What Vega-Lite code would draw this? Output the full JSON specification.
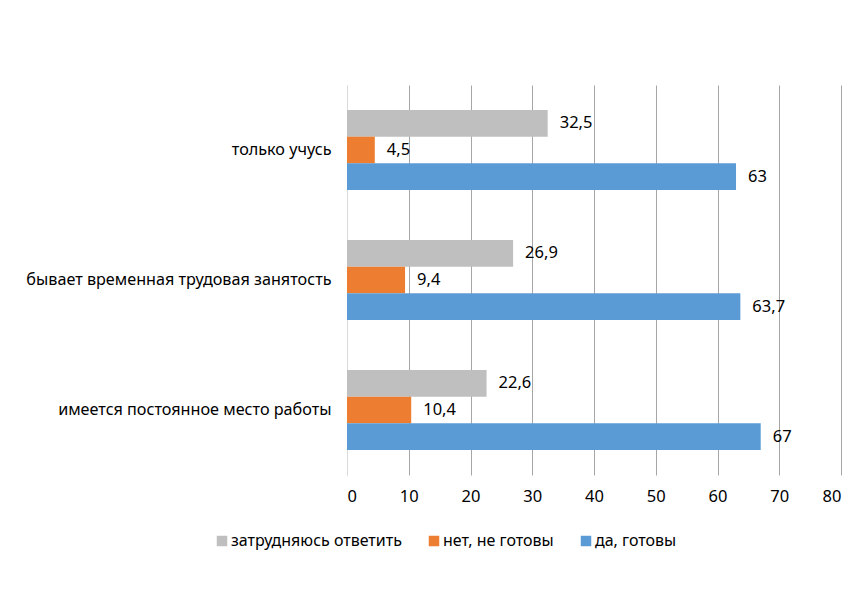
{
  "$schema": "https://vega.github.io/schema/vega-lite/v6.json",
  "width": 494,
  "height": 390,
  "autosize": {"type": "none"},
  "padding": {"left": 347, "top": 85, "right": 22, "bottom": 133},
  "background": "white",
  "config": {
    "view": {"stroke": null},
    "font": "Noto Sans",
    "locale": {
      "number": {"decimal": ",", "thousands": " ", "grouping": [3], "currency": ["", " ₽"]}
    }
  },
  "data": {
    "values": [
      {"group": "только учусь", "answer": "затрудняюсь ответить", "value": 32.5},
      {"group": "только учусь", "answer": "нет, не готовы", "value": 4.5},
      {"group": "только учусь", "answer": "да, готовы", "value": 63},
      {"group": "бывает временная трудовая занятость", "answer": "затрудняюсь ответить", "value": 26.9},
      {"group": "бывает временная трудовая занятость", "answer": "нет, не готовы", "value": 9.4},
      {"group": "бывает временная трудовая занятость", "answer": "да, готовы", "value": 63.7},
      {"group": "имеется постоянное место работы", "answer": "затрудняюсь ответить", "value": 22.6},
      {"group": "имеется постоянное место работы", "answer": "нет, не готовы", "value": 10.4},
      {"group": "имеется постоянное место работы", "answer": "да, готовы", "value": 67}
    ]
  },
  "encoding": {
    "y": {
      "field": "group",
      "type": "nominal",
      "sort": ["только учусь", "бывает временная трудовая занятость", "имеется постоянное место работы"],
      "scale": {"paddingInner": 0.385, "paddingOuter": 0.1925},
      "axis": {
        "title": null,
        "ticks": false,
        "labelPadding": 16,
        "labelFontSize": 16.2,
        "labelLimit": 400,
        "labelColor": "#000000",
        "domainColor": "#d9d9d9",
        "domainWidth": 1
      }
    },
    "x": {
      "field": "value",
      "type": "quantitative",
      "scale": {"domain": [0, 80], "nice": false},
      "axis": {
        "title": null,
        "values": [0, 10, 20, 30, 40, 50, 60, 70, 80],
        "ticks": false,
        "domain": false,
        "labelPadding": 13,
        "labelFontSize": 16.5,
        "labelColor": "#000000",
        "gridColor": {"condition": {"test": "datum.value === 0", "value": "#d9d9d9"}, "value": "#a6a6a6"},
        "gridWidth": 1
      }
    },
    "yOffset": {
      "field": "answer",
      "type": "nominal",
      "sort": ["затрудняюсь ответить", "нет, не готовы", "да, готовы"]
    }
  },
  "layer": [
    {
      "mark": {"type": "bar"},
      "encoding": {
        "color": {
          "field": "answer",
          "type": "nominal",
          "sort": ["затрудняюсь ответить", "нет, не готовы", "да, готовы"],
          "scale": {
            "domain": ["затрудняюсь ответить", "нет, не готовы", "да, готовы"],
            "range": ["#bfbfbf", "#ed7d31", "#5b9bd5"]
          },
          "legend": {
            "title": null,
            "orient": "none",
            "direction": "horizontal",
            "legendX": -133,
            "legendY": 448,
            "symbolType": "square",
            "symbolSize": 110,
            "symbolStrokeWidth": 0,
            "labelFontSize": 16,
            "labelLimit": 400,
            "labelColor": "#000000",
            "labelOffset": 1,
            "columnPadding": 24
          }
        }
      }
    },
    {
      "mark": {"type": "text", "align": "left", "baseline": "middle", "dx": 12, "fontSize": 16.5, "color": "#000000"},
      "encoding": {
        "text": {"field": "value", "type": "quantitative", "format": ".3~g"}
      }
    }
  ]
}
